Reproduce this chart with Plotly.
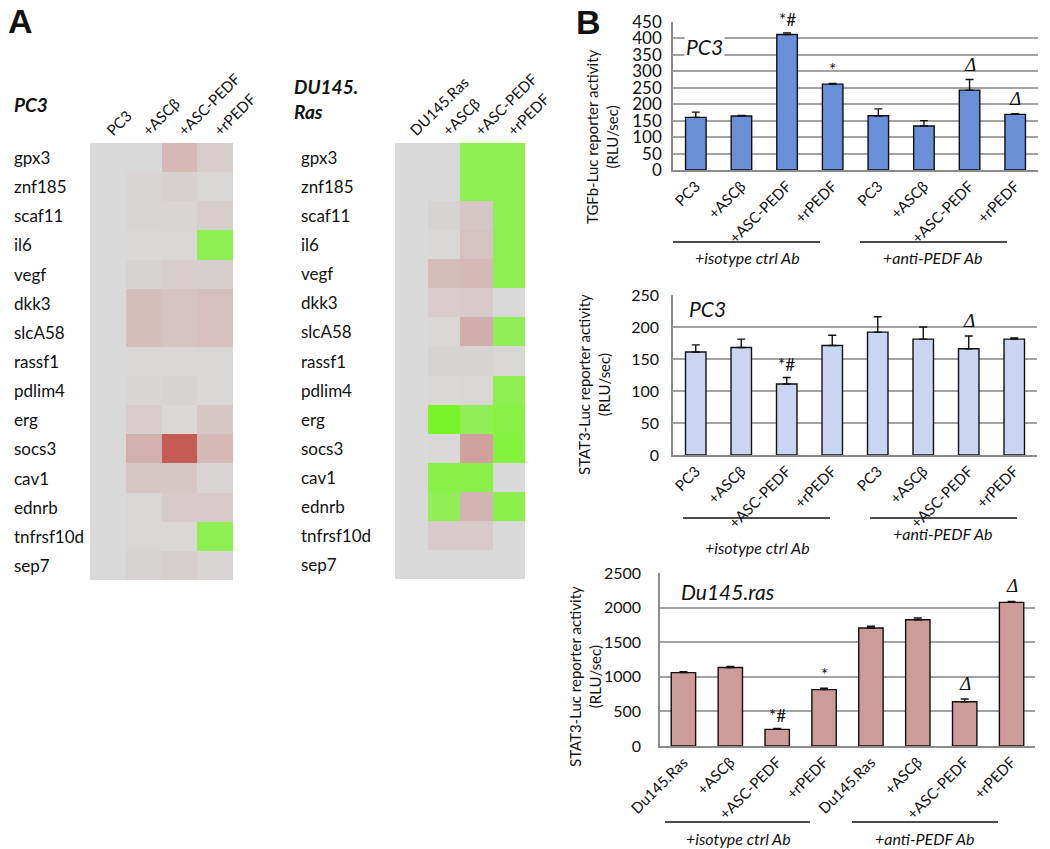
import plotly.graph_objects as go

W, H = 1050, 849
def px(x): return x / W
def py(y): return 1 - y / H

# ---------------- data ----------------
genes = ["gpx3", "znf185", "scaf11", "il6", "vegf", "dkk3", "slcA58", "rassf1",
         "pdlim4", "erg", "socs3", "cav1", "ednrb", "tnfrsf10d", "sep7"]
pc3_cols = ["PC3", "+ASCβ", "+ASC-PEDF", "+rPEDF"]
du_cols = ["DU145.Ras", "+ASCβ", "+ASC-PEDF", "+rPEDF"]

# relative expression (negative = green/down, positive = red/up)
pc3_z = [
    [0, 0.00, 0.22, 0.08],
    [0, 0.03, 0.06, 0.02],
    [0, 0.03, 0.03, 0.08],
    [0, 0.01, 0.02, -0.78],
    [0, 0.04, 0.08, 0.07],
    [0, 0.18, 0.14, 0.17],
    [0, 0.18, 0.14, 0.17],
    [0, 0.01, 0.01, 0.02],
    [0, 0.03, 0.04, 0.01],
    [0, 0.08, 0.01, 0.12],
    [0, 0.28, 0.85, 0.22],
    [0, 0.12, 0.12, 0.03],
    [0, 0.02, 0.10, 0.10],
    [0, 0.02, 0.01, -0.78],
    [0, 0.04, 0.07, 0.03],
]
du_z = [
    [0, 0.00, -0.78, -0.78],
    [0, 0.00, -0.78, -0.78],
    [0, 0.04, 0.12, -0.78],
    [0, 0.01, 0.15, -0.78],
    [0, 0.20, 0.22, -0.78],
    [0, 0.08, 0.10, 0.00],
    [0, 0.01, 0.30, -0.75],
    [0, 0.04, 0.04, 0.02],
    [0, 0.01, 0.02, -0.78],
    [0, -1.00, -0.75, -0.85],
    [0, 0.01, 0.38, -0.88],
    [0, -0.82, -0.82, 0.00],
    [0, -0.75, 0.25, -0.80],
    [0, 0.10, 0.10, 0.00],
    [0, 0.00, 0.00, 0.00],
]

pc3_labels = ["PC3", "+ASCβ", "+ASC-PEDF", "+rPEDF", "PC3", "+ASCβ", "+ASC-PEDF", "+rPEDF"]
du_labels = ["Du145.Ras", "+ASCβ", "+ASC-PEDF", "+rPEDF", "Du145.Ras", "+ASCβ", "+ASC-PEDF", "+rPEDF"]

tgfb_vals = [160, 164, 412, 261, 165, 134, 243, 169]
tgfb_err = [16, 2, 5, 2, 21, 16, 32, 2]
tgfb_sig = ["", "", "*#", "*", "", "", "Δ", "Δ"]

stat3_pc3_vals = [161, 168, 111, 171, 192, 181, 166, 181]
stat3_pc3_err = [11, 13, 10, 16, 24, 19, 20, 2]
stat3_pc3_sig = ["", "", "*#", "", "", "", "Δ", ""]

stat3_du_vals = [1060, 1135, 240, 815, 1705, 1825, 640, 2075]
stat3_du_err = [15, 15, 12, 20, 25, 25, 40, 15]
stat3_du_sig = ["", "", "*#", "*", "", "", "Δ", "Δ"]

groups = ["+isotype ctrl Ab", "+anti-PEDF Ab"]

# ---------------- figure ----------------
FONT = "Lato"
cs = [[0.0, "#78F52A"], [0.5, "#D9D9D9"], [1.0, "#C0463F"]]

fig = go.Figure()
fig.add_trace(go.Heatmap(z=pc3_z, x=pc3_cols, y=genes, xaxis="x", yaxis="y",
                         colorscale=cs, zmin=-1, zmax=1, showscale=False))
fig.add_trace(go.Heatmap(z=du_z, x=du_cols, y=genes, xaxis="x2", yaxis="y2",
                         colorscale=cs, zmin=-1, zmax=1, showscale=False))

bar_specs = [
    ("x3", "y3", tgfb_vals, tgfb_err, tgfb_sig, pc3_labels, "#6A8FD9", 0.45),
    ("x4", "y4", stat3_pc3_vals, stat3_pc3_err, stat3_pc3_sig, pc3_labels, "#C9D5F1", 0.45),
    ("x5", "y5", stat3_du_vals, stat3_du_err, stat3_du_sig, du_labels, "#CD9C98", 0.52),
]
annotations = []
for xa, ya, vals, errs, sig, labels, col, w in bar_specs:
    xs = list(range(len(vals)))
    fig.add_trace(go.Bar(
        x=xs, y=vals, xaxis=xa, yaxis=ya, width=w,
        marker=dict(color=col, line=dict(color="#111", width=1.4)),
        error_y=dict(type="data", array=errs, arrayminus=[0] * len(errs), symmetric=False,
                     color="#111", thickness=1.4, width=4),
        showlegend=False))
    for i, s in enumerate(sig):
        if s:
            is_delta = s == "Δ"
            annotations.append(dict(
                x=xs[i], y=vals[i] + errs[i], xref=xa, yref=ya,
                text="<i>Δ</i>" if is_delta else s, showarrow=False,
                xanchor="center", yanchor="bottom", yshift=3 if is_delta else 1,
                font=dict(family="Liberation Serif" if is_delta else FONT,
                          size=19 if is_delta else 17, color="#111")))

# heatmap row labels
for g in genes:
    annotations.append(dict(x=px(12), xref="paper", y=g, yref="y", text=g, showarrow=False,
                            xanchor="left", yanchor="middle",
                            font=dict(family=FONT, size=17, color="#111")))
    annotations.append(dict(x=px(299), xref="paper", y=g, yref="y2", text=g, showarrow=False,
                            xanchor="left", yanchor="middle",
                            font=dict(family=FONT, size=17, color="#111")))

def ann(x, y, text, size, **kw):
    d = dict(x=px(x), y=py(y), xref="paper", yref="paper", text=text, showarrow=False,
             xanchor="center", yanchor="middle",
             font=dict(family=FONT, size=size, color="#111"))
    d.update(kw)
    return d

annotations += [
    ann(6, 21, "<b>A</b>", 34, xanchor="left", font=dict(family="Liberation Sans", size=34, color="#111")),
    ann(574, 22, "<b>B</b>", 34, xanchor="left", font=dict(family="Liberation Sans", size=34, color="#111")),
    ann(12, 105, "<b><i>PC3</i></b>", 19, xanchor="left"),
    ann(292, 99, "<b><i>DU145.<br>Ras</i></b>", 19, xanchor="left", align="left"),
    ann(704, 46, "<i>PC3</i>", 21, bgcolor="white"),
    ann(707, 308, "<i>PC3</i>", 21, bgcolor="white"),
    ann(727, 591, "<i>Du145.ras</i>", 21, bgcolor="white"),
    ann(602, 137, "TGFb-Luc reporter activity<br>(RLU/sec)", 15, textangle=-90),
    ann(594, 385, "STAT3-Luc reporter activity<br>(RLU/sec)", 15, textangle=-90),
    ann(585, 677, "STAT3-Luc reporter activity<br>(RLU/sec)", 15, textangle=-90),
    ann(747, 258, "<i>" + groups[0] + "</i>", 16),
    ann(933, 258, "<i>" + groups[1] + "</i>", 16),
    ann(757, 547, "<i>" + groups[0] + "</i>", 16),
    ann(943, 533, "<i>" + groups[1] + "</i>", 16),
    ann(738, 838, "<i>" + groups[0] + "</i>", 16),
    ann(925, 838, "<i>" + groups[1] + "</i>", 16),
]

shapes = []
for (x0, x1, y) in [(673, 820, 242), (860, 1007, 242), (683, 830, 518), (870, 1017, 518),
                    (665, 810, 822), (852, 998, 822)]:
    shapes.append(dict(type="line", xref="paper", yref="paper", x0=px(x0), x1=px(x1),
                       y0=py(y), y1=py(y), line=dict(color="#111", width=1.6)))

hm_x = dict(side="top", tickangle=-45, showgrid=False, ticks="", showline=False, zeroline=False,
            automargin=False, tickfont=dict(family=FONT, size=15, color="#111"))
hm_y = dict(autorange="reversed", showticklabels=False, showgrid=False, ticks="",
            showline=False, zeroline=False, automargin=False)

def bx(x0, x1, ya, labels):
    return dict(domain=[px(x0), px(x1)], anchor=ya, range=[-0.5, 7.5], automargin=False,
                tickvals=list(range(8)), ticktext=labels, tickangle=-45, ticks="",
                showgrid=False, zeroline=False, showline=True, linecolor="#8C8C8C", linewidth=1.5,
                tickfont=dict(family=FONT, size=15, color="#111"))

def by(y0, y1, xa, rng, dt, fs, standoff):
    return dict(domain=[py(y0), py(y1)], anchor=xa, range=rng, dtick=dt, showgrid=True,
                automargin=False, gridcolor="#A3A3A3", gridwidth=1.6, zeroline=False,
                showline=True, linecolor="#8C8C8C", linewidth=1.5, ticks="",
                ticklabelstandoff=standoff,
                tickfont=dict(family=FONT, size=fs, color="#111"))

fig.update_layout(
    width=W, height=H, margin=dict(l=0, r=0, t=0, b=0, autoexpand=False),
    paper_bgcolor="white", plot_bgcolor="white", showlegend=False,
    font=dict(family=FONT, color="#111"),
    xaxis=dict(domain=[px(90), px(233)], anchor="y", **hm_x),
    yaxis=dict(domain=[py(580), py(143)], anchor="x", **hm_y),
    xaxis2=dict(domain=[px(395), px(525)], anchor="y2", **hm_x),
    yaxis2=dict(domain=[py(579), py(143)], anchor="x2", **hm_y),
    xaxis3=bx(673, 1038, "y3", pc3_labels),
    yaxis3=by(170, 22, "x3", [0, 450], 50, 17, 6),
    xaxis4=bx(673, 1037, "y4", pc3_labels),
    yaxis4=by(455, 295, "x4", [0, 250], 50, 16, 9),
    xaxis5=bx(660, 1035, "y5", du_labels),
    yaxis5=by(746, 573, "x5", [0, 2500], 500, 16, 14),
    annotations=annotations, shapes=shapes,
)

fig.write_html("out.html", config={"displayModeBar": False},
               post_script="document.body.style.margin='0';document.body.style.overflow='hidden';")
